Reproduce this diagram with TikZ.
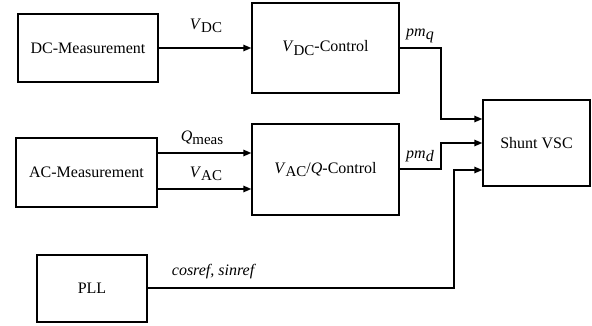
\documentclass[tikz,border=0pt]{standalone}
\usepackage{fontspec}
\setmainfont{Liberation Serif}
\usetikzlibrary{arrows.meta}
\newcommand{\varsub}[2]{\textit{#1}\raisebox{-0.45ex}{\fontsize{15}{17}\selectfont #2}}
\begin{document}
\begin{tikzpicture}[x=1pt,y=-1pt,
  blk/.style={draw,line width=1.4pt,minimum width=#1,inner sep=0pt},
  sig/.style={line width=1.4pt,-{Triangle[length=8pt,width=6.5pt]}},
  wire/.style={line width=1.4pt},
  lbl/.style={inner sep=0pt},
  every node/.append style={font=\fontsize{16}{19}\selectfont}]
\useasboundingbox (0,0) rectangle (592,326);
% blocks
\node[blk=140pt,minimum height=68pt] (dcm) at (88,48) {DC-Measurement};
\node[blk=147pt,minimum height=90pt] (vdc) at (325.5,48) {\varsub{V}{DC}-Control};
\node[blk=141pt,minimum height=69pt] (acm) at (86.5,172.5) {AC-Measurement};
\node[blk=147pt,minimum height=91pt] (vac) at (325.5,169.5) {\varsub{V}{AC}/\textit{Q}-Control};
\node[blk=107pt,minimum height=86pt] (vsc) at (536.5,143) {Shunt VSC};
\node[blk=110pt,minimum height=67pt] (pll) at (92,288.5) {PLL};
% turning points of the wires
\coordinate (qa) at (441,48);
\coordinate (qb) at (441,119);
\coordinate (da) at (441,169);
\coordinate (db) at (441,143);
\coordinate (pa) at (454,288);
\coordinate (pb) at (454,170);
% signals
\draw[sig] (dcm.east) -- (vdc.west);
\draw[sig] (acm.east |- 0,153) -- (vac.west |- 0,153);
\draw[sig] (acm.east |- 0,189) -- (vac.west |- 0,189);
\draw[sig] (vdc.east) -- (qa) -- (qb) -- (vsc.west |- qb);
\draw[sig] (vac.east |- da) -- (da) -- (db) -- (vsc.west |- db);
\draw[sig] (pll.east |- pa) -- (pa) -- (pb) -- (vsc.west |- pb);
% labels
\node[lbl] (lvdc) at (206,26) {\varsub{V}{DC}};
\node[lbl] (lq) at (202,138) {\varsub{Q}{meas}};
\node[lbl] (lvac) at (206,174) {\varsub{V}{AC}};
\node[lbl] (lpmq) at (420,36) {\textit{pm}\raisebox{-0.45ex}{\textit{q}}};
\node[lbl] (lpmd) at (420,156) {\textit{pm}\raisebox{-0.45ex}{\textit{d}}};
\node[lbl] (lcs) at (214,272) {\textit{cosref, sinref}};
\end{tikzpicture}
\end{document}
